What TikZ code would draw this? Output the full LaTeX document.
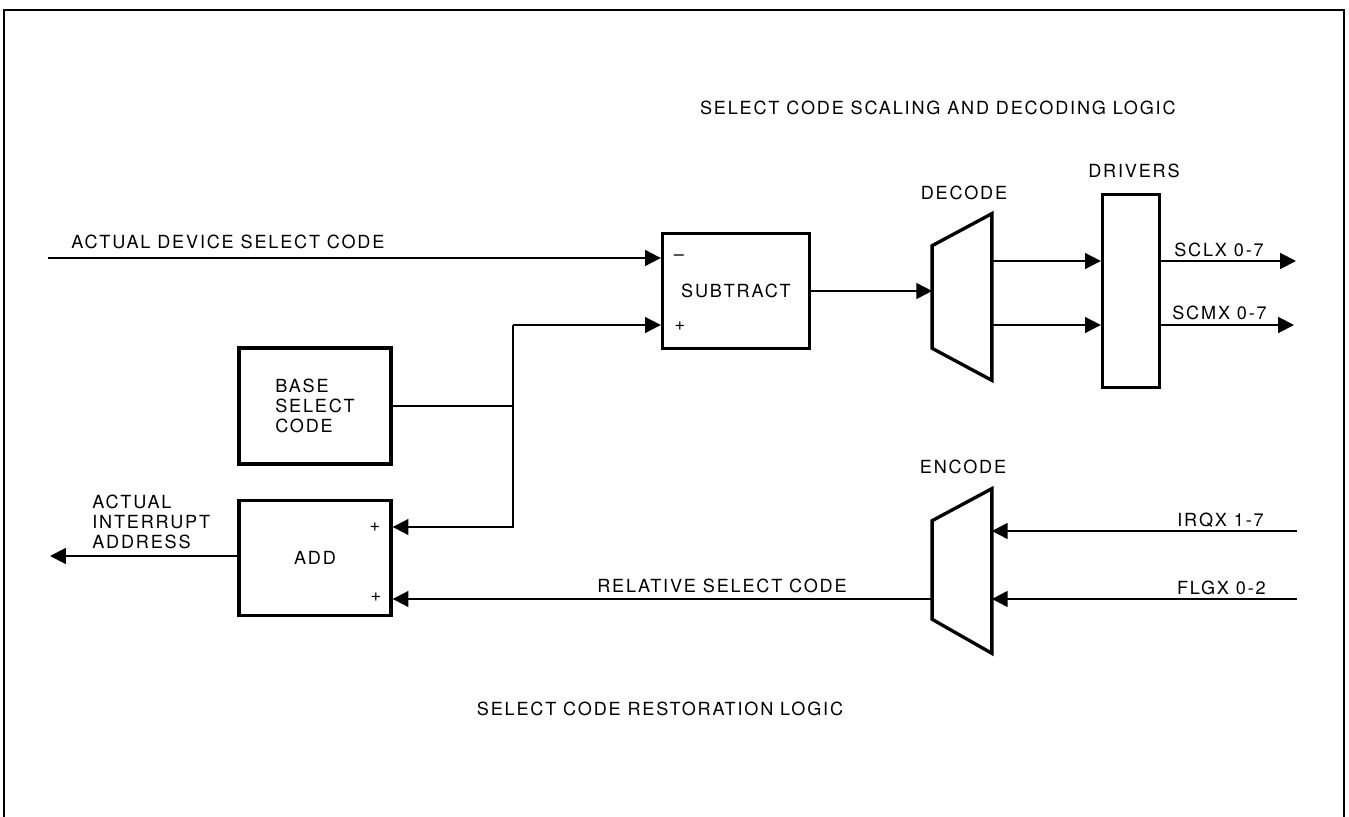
\documentclass[tikz,border=0pt]{standalone}
\usepackage{fontspec}
\setmainfont{TeX Gyre Heros}[LetterSpace=10]
\usetikzlibrary{arrows.meta,calc}
\tikzset{
  scframe/.style={line width=1.4pt, draw=black},
  scbox/.style={draw=black, line width=1.9pt, inner sep=0pt},
  scline/.style={line width=1.1pt, draw=black},
  scarrow/.style={scline, -{Triangle[length=9pt,width=9pt]}},
  sctext/.style={inner sep=0pt, font=\fontsize{10.3}{11.4}\selectfont, align=left},
}

\begin{document}
\begin{tikzpicture}[x=0.02cm, y=-0.02cm]
\useasboundingbox (0,0) rectangle (1349,817);
\draw[scframe] (4,817) -- (4,10) -- (1344,10) -- (1344,817);
% blocks
\node[scbox, sctext, minimum width=2.94cm, minimum height=2.30cm] (sub) at (736,291) {SUBTRACT};
\node[scbox, sctext, minimum width=3.04cm, minimum height=2.32cm] (base) at (315,406) {BASE\\SELECT\\CODE};
\node[scbox, sctext, minimum width=3.04cm, minimum height=2.30cm] (add) at (315,558) {ADD};
\node[scbox, minimum width=1.14cm, minimum height=3.86cm] (drv) at (1131,291) {};
\node[inner sep=0pt, minimum width=1.18cm, minimum height=3.32cm] (dec) at (962,297) {};
\node[inner sep=0pt, minimum width=1.18cm, minimum height=3.28cm] (enc) at (962,571) {};
\draw[scbox] ($(dec.north west)+(0,32)$) -- (dec.north east) -- (dec.south east) -- ($(dec.south west)+(0,-32)$) -- cycle;
\draw[scbox] ($(enc.north west)+(0,32)$) -- (enc.north east) -- (enc.south east) -- ($(enc.south west)+(0,-34)$) -- cycle;
% signs
\node[sctext] (subminus) at (679,258) {–};
\node[sctext] (subplus) at (680,326) {+};
\node[sctext] (addplus1) at (375,527) {+};
\node[sctext] (addplus2) at (376,597) {+};
% labels
\node[sctext, anchor=east] (title) at (1176,108) {SELECT CODE SCALING AND DECODING LOGIC};
\node[sctext, anchor=west] (adslbl) at (71,242) {ACTUAL DEVICE SELECT CODE};
\node[sctext] (declbl) at (964,193) {DECODE};
\node[sctext] (drvlbl) at (1134,171) {DRIVERS};
\node[sctext, anchor=west] (scllbl) at (1174,250) {SCLX 0-7};
\node[sctext, anchor=west] (scmlbl) at (1172,313) {SCMX 0-7};
\node[sctext, anchor=west] (aialbl) at (92,522) {ACTUAL\\INTERRUPT\\ADDRESS};
\node[sctext] (enclbl) at (963,467) {ENCODE};
\node[sctext, anchor=east] (irqlbl) at (1264,520) {IRQX 1-7};
\node[sctext, anchor=east] (flglbl) at (1266,588) {FLGX 0-2};
\node[sctext] (rsclbl) at (722,586) {RELATIVE SELECT CODE};
\node[sctext] (restlbl) at (660,709) {SELECT CODE RESTORATION LOGIC};
% connectors
\coordinate (adsin) at (48,258);
\coordinate (jtop) at (513,325);
\coordinate (jbot) at (513,527);
\coordinate (sclx) at (1296,261);
\coordinate (scmx) at (1294,325);
\coordinate (irqx) at (1297,531);
\coordinate (flgx) at (1297,599);
\coordinate (aiaout) at (50,556);
\draw[scarrow] (adsin) -- (adsin -| sub.west);
\draw[scline] (base.east) -- (base.east -| jtop);
\draw[scarrow] (jtop) -- (jtop -| sub.west);
\draw[scarrow] (jtop) -- (jbot) -- (jbot -| add.east);
\draw[scarrow] (sub.east) -- (sub.east -| dec.west);
\draw[scarrow] (sclx -| dec.east) -- (sclx -| drv.west);
\draw[scarrow] (scmx -| dec.east) -- (scmx -| drv.west);
\draw[scarrow] (sclx -| drv.east) -- (sclx);
\draw[scarrow] (scmx -| drv.east) -- (scmx);
\draw[scarrow] (irqx) -- (irqx -| enc.east);
\draw[scarrow] (flgx) -- (flgx -| enc.east);
\draw[scarrow] (flgx -| enc.west) -- (flgx -| add.east);
\draw[scarrow] (aiaout -| add.west) -- (aiaout);
\end{tikzpicture}
\end{document}
